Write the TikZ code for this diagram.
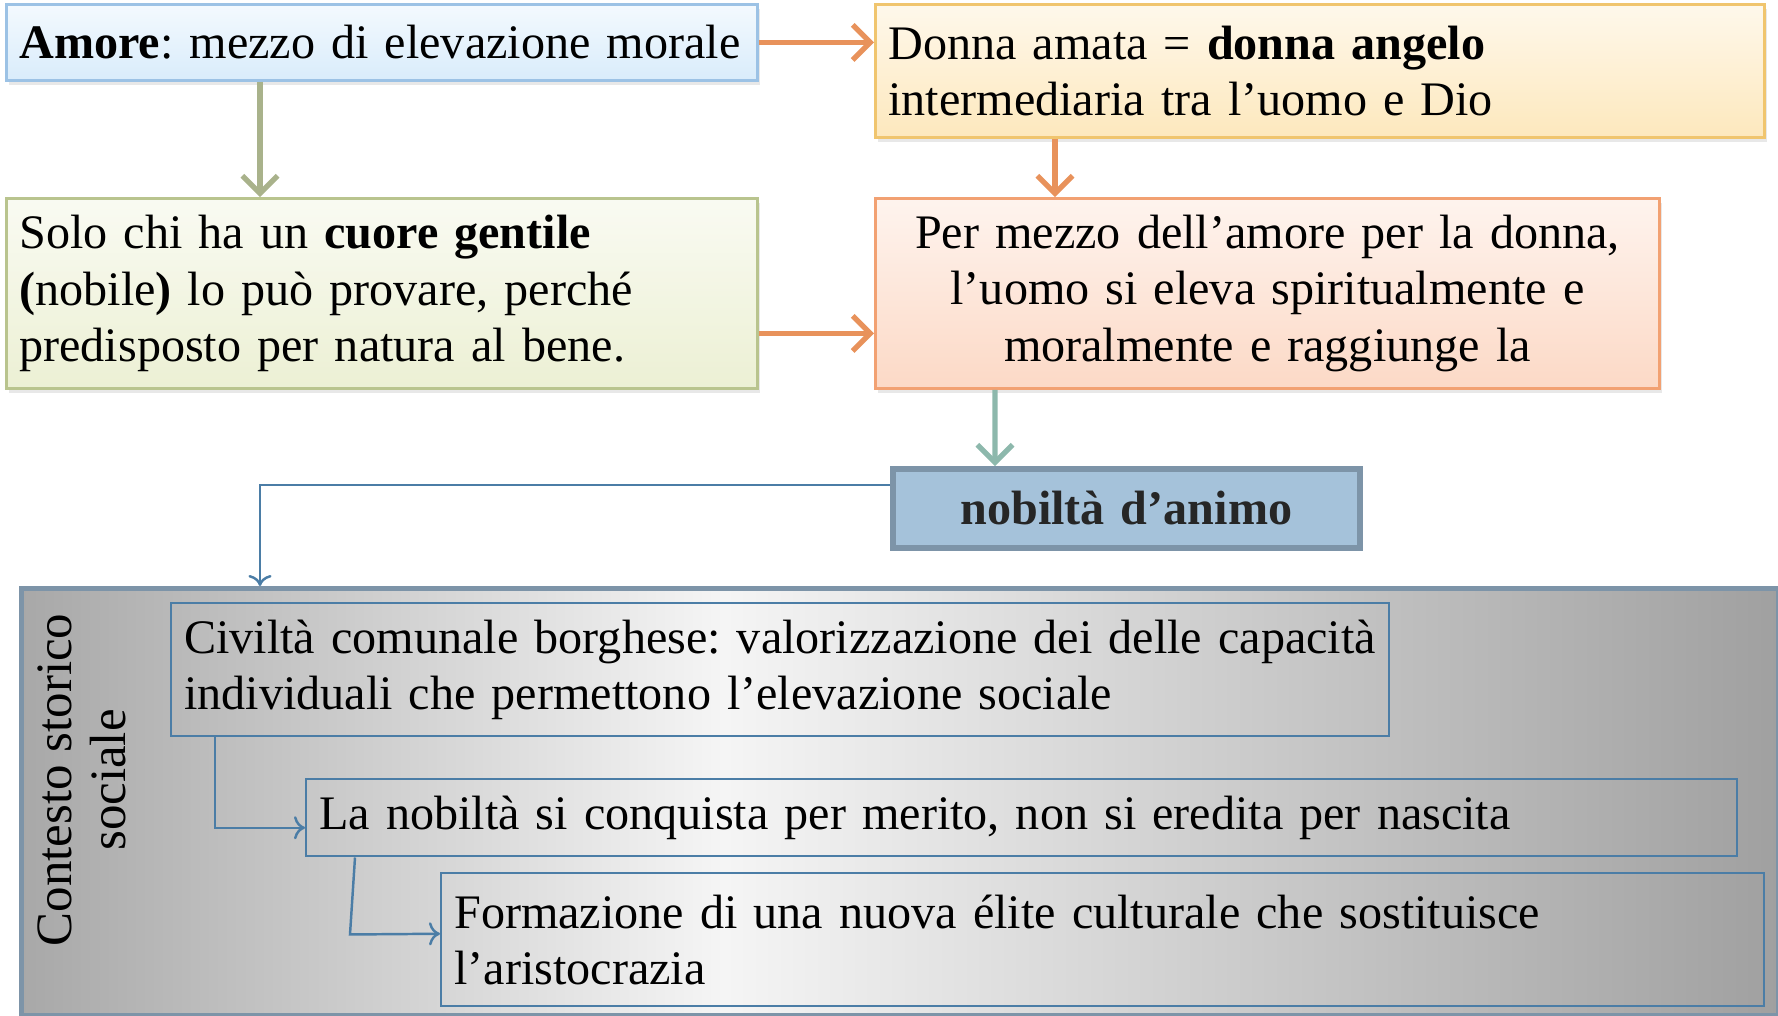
\documentclass[tikz,border=0pt]{standalone}
\usepackage{fontspec}
\setmainfont{Liberation Serif}
\usetikzlibrary{arrows.meta,positioning,shadows}
\definecolor{bluei}{HTML}{9CC2E5}
\definecolor{blueii}{HTML}{D9ECFB}
\definecolor{yellowi}{HTML}{F0C56E}
\definecolor{yellowii}{HTML}{FDE8BD}
\definecolor{greeni}{HTML}{B9C48E}
\definecolor{greenii}{HTML}{ECF0D4}
\definecolor{orangei}{HTML}{F2A172}
\definecolor{orangeii}{HTML}{FCD9C6}
\definecolor{arrowi}{HTML}{E8925B}
\definecolor{arrowii}{HTML}{A9B28B}
\definecolor{arrowiii}{HTML}{8DB8AC}
\definecolor{steeli}{HTML}{4B7DA6}
\definecolor{nobili}{HTML}{A5C2DA}
\definecolor{nobilii}{HTML}{7D94A8}
\definecolor{grayi}{HTML}{A8A8A8}
\definecolor{grayii}{HTML}{F5F5F5}
\definecolor{grayiii}{HTML}{A0A0A0}
\pgfdeclarehorizontalshading{contestoshade}{100bp}{color(0bp)=(grayi); color(25bp)=(grayi); color(45bp)=(grayii); color(75bp)=(grayiii); color(100bp)=(grayiii)}
\newcommand\boxfont{\fontsize{13.7}{16}\selectfont}
\frenchspacing
\tikzset{
      myblock/.style 2 args={
        draw=#1,
        top color=#2!30!white,
        bottom color=#2,
        line width=0.8pt,
        align=left,
        inner xsep=0.13cm,
        inner ysep=0pt,
        font=\boxfont,
        drop shadow={opacity=0.18,shadow xshift=0.03cm,shadow yshift=-0.05cm}
      },
      myinner/.style={
        draw=steeli,
        line width=0.7pt,
        align=left,
        inner xsep=0.13cm,
        inner ysep=0pt,
        font=\boxfont
      },
      mythick/.style={
        draw=#1,
        line width=1.5pt,
        -{Straight Barb[length=5pt,width=10pt]}
      },
      mythin/.style={
        draw=steeli,
        line width=0.7pt,
        ->
      },
    }

\begin{document}
\begin{tikzpicture}
          \useasboundingbox (0,0) rectangle (17.78,-10.15);

          \node[myblock={bluei}{blueii},text width=7.25cm,minimum height=0.76cm,anchor=north west]
            (amore) at (0.05,-0.03)
            {\textbf{Amore}: mezzo di elevazione morale};
          \node[myblock={yellowi}{yellowii},text width=8.63cm,minimum height=1.33cm,anchor=north west]
            (donna) at (8.74,-0.03)
            {Donna amata = \textbf{donna angelo}\\intermediaria tra l’uomo e Dio};
          \node[myblock={greeni}{greenii},text width=7.25cm,minimum height=1.90cm,anchor=north west]
            (solo) at (0.05,-1.97)
            {Solo chi ha un \textbf{cuore gentile}\\\textbf{(}nobile\textbf{)} lo può provare, perché\\predisposto per natura al bene.};
          \node[myblock={orangei}{orangeii},text width=7.58cm,minimum height=1.90cm,align=center,anchor=north west]
            (mezzo) at (8.74,-1.97)
            {Per mezzo dell’amore per la donna,\\l’uomo si eleva spiritualmente e\\moralmente e raggiunge la};
          \node[draw=nobilii,fill=nobili,line width=1.6pt,text width=4.41cm,minimum height=0.79cm,
                align=center,inner xsep=0.13cm,inner ysep=0pt,font=\boxfont\bfseries,text=black!85,anchor=north west]
            (nobilta) at (8.90,-4.66)
            {nobiltà d’animo};

          % contesto storico sociale
          \node[draw=nobilii,line width=1.4pt,shading=contestoshade,minimum width=17.57cm,minimum height=4.27cm,
                inner sep=0pt,anchor=north west]
            (contesto) at (0.19,-5.86) {};
          \node[rotate=90,align=center,font=\fontsize{14.5}{15.5}\selectfont]
            (etichetta) at (0.82,-7.80)
            {Contesto storico\\sociale};
          \node[myinner,text width=11.92cm,minimum height=1.33cm,anchor=north west]
            (civilta) at (1.70,-6.02)
            {Civiltà comunale borghese: valorizzazione dei delle capacità\\individuali che permettono l’elevazione sociale};
          \node[myinner,text width=14.05cm,minimum height=0.77cm,anchor=north west]
            (merito) at (3.05,-7.78)
            {La nobiltà si conquista per merito, non si eredita per nascita};
          \node[myinner,text width=12.97cm,minimum height=1.33cm,anchor=north west]
            (elite) at (4.40,-8.72)
            {Formazione di una nuova élite culturale che sostituisce\\l’aristocrazia};

          \draw[mythick=arrowi] (amore.east) -- (amore.east -| donna.west);
          \draw[mythick=arrowii] ([xshift=2.55cm]amore.south west) -- ([xshift=2.55cm]solo.north west);
          \draw[mythick=arrowi] ([xshift=1.81cm]donna.south west) -- ([xshift=1.81cm]mezzo.north west);
          \draw[mythick=arrowi] ([yshift=-0.40cm]solo.east) -- ([yshift=-0.40cm]mezzo.west);
          \draw[mythick=arrowiii] ([xshift=1.21cm]mezzo.south west) -- ([xshift=1.05cm]nobilta.north west);
          \draw[mythin] ([yshift=0.235cm]nobilta.west) -| ([xshift=2.41cm]contesto.north west);
          \draw[mythin] ([xshift=0.45cm]civilta.south west) |- ([yshift=-0.10cm]merito.west);
          \draw[mythin] ([xshift=0.50cm]merito.south west) -- ++(-0.05,-0.77) -- ([yshift=0.06cm]elite.west);
\end{tikzpicture}
\end{document}
